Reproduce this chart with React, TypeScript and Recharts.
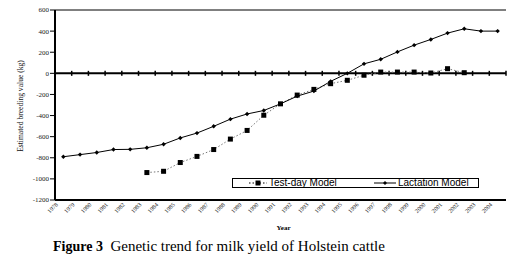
import React from 'react';
import { LineChart, Line, XAxis, YAxis, ReferenceLine, Legend } from 'recharts';

const years = [
  '1978', '1979', '1980', '1981', '1982', '1983', '1984', '1985', '1986', '1987',
  '1988', '1989', '1990', '1991', '1992', '1993', '1994', '1995', '1996', '1997',
  '1998', '1999', '2000', '2001', '2002', '2003', '2004',
];
const lactation = [
  -790, -770, -750, -722, -720, -705, -672, -612, -566, -502,
  -434, -385, -352, -289, -216, -168, -76, 0, 90, 133,
  203, 267, 321, 381, 422, 400, 400,
];
const testDay: (number | null)[] = [
  null, null, null, null, null, -940, -928, -845, -787, -722,
  -623, -541, -397, -289, -206, -152, -98, -66, -18, 12,
  12, 12, 3, 44, 6, null, null,
];
const yTicks = [-1200, -1000, -800, -600, -400, -200, 0, 200, 400, 600];

const data = years.map((year, i) => ({ year, lactation: lactation[i], testDay: testDay[i] }));

const serif = '"Liberation Serif", "Times New Roman", serif';
const sans = '"Liberation Sans", Arial, sans-serif';

function Diamond(props: any) {
  const { cx, cy } = props;
  if (cx == null || cy == null) return null;
  return <path d={`M${cx},${cy - 2.2}L${cx + 2.2},${cy}L${cx},${cy + 2.2}L${cx - 2.2},${cy}Z`} fill="#000" />;
}

function Square(props: any) {
  const { cx, cy, value } = props;
  if (cx == null || cy == null || value == null) return null;
  return <rect x={cx - 2.5} y={cy - 2.5} width={5} height={5} fill="#000" />;
}

// zero line drawn like Excel's crossing axis, with ticks between categories
function ZeroAxis(props: any) {
  const { x1, x2, y1 } = props;
  const n = years.length;
  const step = (x2 - x1) / n;
  return (
    <g>
      <line x1={x1} x2={x2} y1={y1} y2={y1} stroke="#000" strokeWidth={2} />
      {Array.from({ length: n + 1 }, (_, i) => (
        <line key={i} x1={x1 + i * step} x2={x1 + i * step} y1={y1 - 2.5} y2={y1 + 2.5} stroke="#000" strokeWidth={1.5} />
      ))}
    </g>
  );
}

function YearTick(props: any) {
  const { x, y, payload } = props;
  const ax = x - 5;
  const ay = y + 5;
  return (
    <text x={ax} y={ay} transform={`rotate(-45, ${ax}, ${ay})`} textAnchor="end" fontSize={6} fontFamily={serif} fill="#222">
      {payload.value}
    </text>
  );
}

function LegendBox() {
  return (
    <div style={{ width: 247, height: 10, border: '1px solid #000', boxSizing: 'border-box', position: 'relative', fontFamily: sans, fontSize: 10, lineHeight: '9px', color: '#000', background: '#fff' }}>
      <svg width={40} height={8} style={{ position: 'absolute', left: 14, top: 0 }}>
        <line x1={2} x2={20} y1={4} y2={4} stroke="#000" strokeWidth={1} strokeDasharray="1.5 2" />
        <rect x={8.5} y={1.5} width={5} height={5} fill="#000" />
      </svg>
      <span style={{ position: 'absolute', left: 36, top: -1, whiteSpace: 'nowrap' }}>Test-day Model</span>
      <svg width={30} height={8} style={{ position: 'absolute', left: 140, top: 0 }}>
        <line x1={1} x2={23} y1={4} y2={4} stroke="#000" strokeWidth={1} />
        <path d="M12,2L14,4L12,6L10,4Z" fill="#000" />
      </svg>
      <span style={{ position: 'absolute', left: 165, top: -1, whiteSpace: 'nowrap' }}>Lactation Model</span>
    </div>
  );
}

export default function App() {
  return (
    <div style={{ position: 'absolute', left: 0, top: 0, width: 514, height: 261, background: '#fff' }}>
      <LineChart width={514} height={235} data={data} margin={{ top: 10, right: 8, bottom: 0, left: 0 }}>
        <XAxis
          dataKey="year"
          interval={0}
          height={35}
          padding={{ left: 8.35, right: 8.35 }}
          tickSize={0}
          tickMargin={0}
          tickLine={false}
          axisLine={{ stroke: '#000', strokeWidth: 2 }}
          tick={<YearTick />}
          label={{
            content: (p: any) => {
              const { x, y, width } = p.viewBox;
              return (
                <text x={x + width / 2 + 3} y={y + 30} textAnchor="middle" fontSize={7} fontWeight="bold" fontFamily={serif} fill="#000">
                  Year
                </text>
              );
            },
          }}
        />
        <YAxis
          yAxisId="l"
          width={55}
          domain={[-1200, 600]}
          ticks={yTicks}
          interval={0}
          tickSize={5}
          tickMargin={1}
          tickLine={{ stroke: '#000' }}
          axisLine={{ stroke: '#000', strokeWidth: 2 }}
          tick={{ fontSize: 7, fontFamily: serif, fill: '#222' }}
          label={{
            content: (p: any) => {
              const { x, y, height } = p.viewBox;
              const lx = x + 20;
              const ly = y + height / 2 + 1;
              return (
                <text x={lx} y={ly} transform={`rotate(-90, ${lx}, ${ly})`} textAnchor="middle" dominantBaseline="central" fontSize={7.6} fontFamily={serif} fill="#111">
                  Estimated breeding value (kg)
                </text>
              );
            },
          }}
        />
        <YAxis yAxisId="r" orientation="right" width={0} domain={[-1200, 600]} tick={false} tickLine={false} axisLine={{ stroke: '#000', strokeWidth: 1 }} />
        <ReferenceLine yAxisId="l" y={600} stroke="#000" strokeWidth={1} />
        <ReferenceLine yAxisId="l" y={0} shape={ZeroAxis} />
        <Line
          yAxisId="l"
          dataKey="testDay"
          name="Test-day Model"
          stroke="#777"
          strokeWidth={1}
          strokeDasharray="1.5 2"
          dot={<Square />}
          connectNulls={false}
          isAnimationActive={false}
        />
        <Line
          yAxisId="l"
          dataKey="lactation"
          name="Lactation Model"
          stroke="#000"
          strokeWidth={1}
          dot={<Diamond />}
          isAnimationActive={false}
        />
        <Legend
          layout="horizontal"
          align="center"
          verticalAlign="middle"
          wrapperStyle={{ left: 232, top: 178, width: 247, height: 10 }}
          content={() => <LegendBox />}
        />
      </LineChart>
      <div style={{ position: 'absolute', left: 53, top: 239, fontFamily: serif, fontSize: 15, lineHeight: '15px', whiteSpace: 'pre', color: '#000' }}>
        <b style={{ fontSize: 14 }}>Figure 3</b>{'  Genetic trend for milk yield of Holstein cattle'}
      </div>
    </div>
  );
}
